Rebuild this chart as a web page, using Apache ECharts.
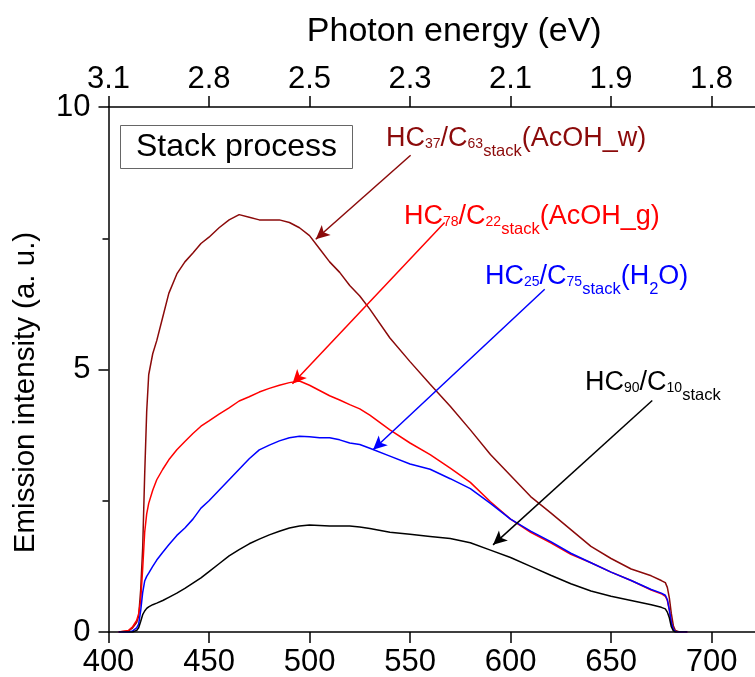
<!DOCTYPE html>
<html>
<head>
<meta charset="utf-8">
<script src="https://cdn.jsdelivr.net/npm/echarts@6/dist/echarts.min.js"></script>
<style>html,body{margin:0;padding:0;background:#fff}#c{width:755px;height:677px}</style>
</head>
<body>
<div id="c"></div>
<script>
// Wavelength (nm)
const wavelength = [405,410,412,414,415,416,417,418,419,420,422,424,427,430,434,438,442,446,450,455,460,465,470,475,480,485,490,495,500,505,510,515,520,525,530,540,550,560,570,580,590,600,610,620,630,640,650,660,670,675,677,678,679,680,681,682,684,688];
// HC37/C63 stack (AcOH_w)
const seriesAcOHw = [0,0.02,0.08,0.18,0.3,0.8,1.6,3.0,4.2,4.9,5.3,5.55,6.0,6.45,6.82,7.05,7.22,7.4,7.52,7.7,7.85,7.95,7.9,7.85,7.85,7.85,7.8,7.7,7.55,7.3,7.05,6.85,6.6,6.4,6.15,5.6,5.15,4.72,4.3,3.85,3.38,2.98,2.58,2.27,1.95,1.63,1.4,1.2,1.07,0.98,0.94,0.85,0.65,0.35,0.12,0.03,0,0];
// HC78/C22 stack (AcOH_g)
const seriesAcOHg = [0,0.03,0.1,0.22,0.35,0.6,1.2,1.9,2.25,2.45,2.7,2.9,3.1,3.28,3.47,3.63,3.78,3.92,4.02,4.15,4.27,4.4,4.48,4.57,4.64,4.7,4.75,4.78,4.7,4.6,4.5,4.42,4.33,4.25,4.13,3.85,3.6,3.38,3.12,2.85,2.48,2.15,1.9,1.7,1.48,1.32,1.14,0.98,0.8,0.73,0.68,0.6,0.42,0.18,0.05,0.01,0,0];
// HC25/C75 stack (H2O)
const seriesH2O = [0,0,0.02,0.08,0.15,0.4,0.75,0.97,1.06,1.12,1.25,1.37,1.52,1.66,1.84,1.98,2.15,2.36,2.5,2.7,2.9,3.1,3.3,3.47,3.56,3.64,3.7,3.73,3.72,3.7,3.7,3.66,3.6,3.57,3.5,3.35,3.2,3.1,2.92,2.73,2.45,2.15,1.92,1.72,1.5,1.32,1.14,0.98,0.81,0.74,0.7,0.62,0.42,0.18,0.05,0.01,0,0];
// HC90/C10 stack
const seriesHC90 = [0,0,0,0.03,0.08,0.2,0.33,0.4,0.45,0.48,0.52,0.55,0.6,0.66,0.74,0.83,0.93,1.03,1.15,1.3,1.45,1.57,1.68,1.77,1.85,1.92,1.98,2.02,2.04,2.03,2.02,2.02,2.02,2.0,1.97,1.9,1.86,1.82,1.78,1.7,1.56,1.42,1.25,1.08,0.92,0.78,0.68,0.6,0.52,0.47,0.44,0.38,0.27,0.1,0.02,0,0,0];
// Bottom axis tick labels (wavelength, nm) and top axis tick labels (photon energy, eV)
const wavelengthTicks = [400,450,500,550,600,650,700];
const energyTickLabels = ['3.1','2.8','2.5','2.3','2.1','1.9','1.8'];
const yTickLabels = {0:'0', 5:'5', 10:'10'};

const FONT = 'Liberation Sans, Arial, sans-serif';
const pairs = arr => wavelength.map((w,i) => [w, arr[i]]);

function arrow(color, from, to) {
  return {
    silent: true, animation: false,
    symbol: ['none','arrow'], symbolSize: [10, 14],
    lineStyle: {color: color, width: 1.5, type: 'solid'},
    label: {show: false},
    data: [[{coord: from}, {coord: to}]]
  };
}

function rich(color) {
  return {
    m: {fontSize: 27, verticalAlign: 'top', fontFamily: FONT, fill: color},
    n: {fontSize: 14, verticalAlign: 'top', padding: [12, 0, 0, 0], fontFamily: FONT, fill: color},
    s: {fontSize: 16.5, verticalAlign: 'top', padding: [17.5, 0, 0, 0], fontFamily: FONT, fill: color}
  };
}
function annot(left, top, text, color) {
  return {type: 'text', left: left, top: top, silent: true,
    style: {text: text, rich: rich(color), fill: color, font: '27px ' + FONT}};
}

const chart = echarts.init(document.getElementById('c'), null, {renderer: 'canvas'});
const axisCommon = {
  type: 'value', min: 400, max: 744, interval: 50,
  axisLine: {show: true, onZero: false, lineStyle: {color: '#000', width: 1.5}},
  axisTick: {show: true, inside: false, length: 11, lineStyle: {color: '#000', width: 1.5}},
  splitLine: {show: false}
};
chart.setOption({
  animation: false,
  backgroundColor: '#fff',
  textStyle: {fontFamily: FONT},
  title: {
    text: 'Stack process', left: 120, top: 125,
    padding: [6, 16, 6, 16], borderColor: '#666', borderWidth: 1,
    textStyle: {fontSize: 32, fontWeight: 'normal', color: '#000', fontFamily: FONT}
  },
  grid: {left: 108.5, right: -45, top: 107, bottom: 45, containLabel: false, outerBoundsMode: 'none'},
  xAxis: [
    Object.assign({}, axisCommon, {
      position: 'bottom',
      axisLabel: {fontSize: 31, color: '#000', margin: 15, fontFamily: FONT, showMaxLabel: false,
        formatter: v => wavelengthTicks.indexOf(v) >= 0 ? String(v) : ''}
    }),
    Object.assign({}, axisCommon, {
      position: 'top',
      name: 'Photon energy (eV)', nameLocation: 'middle', nameGap: 58,
      nameTextStyle: {fontSize: 34, color: '#000', fontFamily: FONT},
      axisLabel: {fontSize: 31, color: '#000', margin: 12, fontFamily: FONT, showMaxLabel: false,
        formatter: v => { const i = wavelengthTicks.indexOf(v); return i >= 0 ? energyTickLabels[i] : ''; }}
    })
  ],
  yAxis: {
    type: 'value', min: 0, max: 10, interval: 5,
    name: 'Emission intensity (a. u.)', nameLocation: 'middle', nameGap: 68, nameRotate: 90,
    nameTextStyle: {fontSize: 29.5, color: '#000', fontFamily: FONT, padding: [0, 46, 0, 0]},
    axisLine: {show: true, onZero: false, lineStyle: {color: '#000', width: 1.5}},
    axisTick: {show: true, length: 10, lineStyle: {color: '#000', width: 1.5}},
    minorTick: {show: true, splitNumber: 2, length: 6, lineStyle: {color: '#000', width: 1.5}},
    axisLabel: {fontSize: 31, color: '#000', margin: 18, fontFamily: FONT,
      formatter: v => yTickLabels[v] !== undefined ? yTickLabels[v] : ''},
    splitLine: {show: false}
  },
  series: [
    {name: 'HC37/C63 stack (AcOH_w)', type: 'line', data: pairs(seriesAcOHw), showSymbol: false,
     lineStyle: {color: '#8B0A0A', width: 1.5}, itemStyle: {color: '#8B0A0A'},
     markLine: arrow('#8B0A0A', [550.3, 9.08], [503.1, 7.48])},
    {name: 'HC78/C22 stack (AcOH_g)', type: 'line', data: pairs(seriesAcOHg), showSymbol: false,
     lineStyle: {color: '#FF0000', width: 1.5}, itemStyle: {color: '#FF0000'},
     markLine: arrow('#FF0000', [567.2, 7.8], [491.5, 4.73])},
    {name: 'HC25/C75 stack (H2O)', type: 'line', data: pairs(seriesH2O), showSymbol: false,
     lineStyle: {color: '#0000FF', width: 1.5}, itemStyle: {color: '#0000FF'},
     markLine: arrow('#0000FF', [617, 6.53], [531.6, 3.47])},
    {name: 'HC90/C10 stack', type: 'line', data: pairs(seriesHC90), showSymbol: false,
     lineStyle: {color: '#000000', width: 1.5}, itemStyle: {color: '#000000'},
     markLine: arrow('#000000', [670.5, 4.41], [591.3, 1.66])}
  ],
  graphic: [
    annot(386, 125, '{m|HC}{n|37}{m|/C}{n|63}{s|stack}{m|(AcOH_w)}', '#8B0A0A'),
    annot(404, 203, '{m|HC}{n|78}{m|/C}{n|22}{s|stack}{m|(AcOH_g)}', '#FF0000'),
    annot(485, 263, '{m|HC}{n|25}{m|/C}{n|75}{s|stack}{m|(H}{s|2}{m|O)}', '#0000FF'),
    annot(585, 369, '{m|HC}{n|90}{m|/C}{n|10}{s|stack}', '#000000')
  ]
});
</script>
</body>
</html>
